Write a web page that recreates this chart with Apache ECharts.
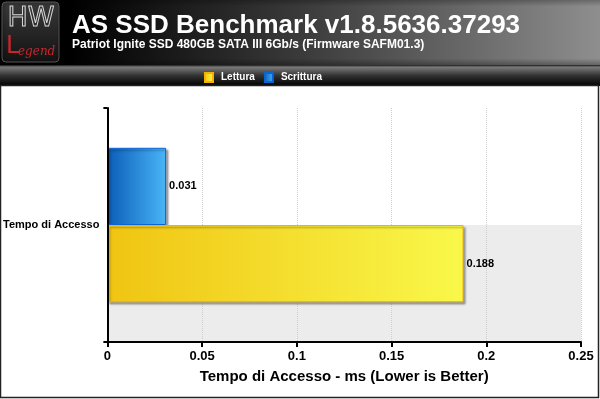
<!DOCTYPE html>
<html><head><meta charset="utf-8">
<script src="https://cdn.jsdelivr.net/npm/echarts@6/dist/echarts.min.js"></script>
<style>html,body{margin:0;padding:0;background:#fff}#c{width:600px;height:399px}</style>
</head><body><div id="c"></div>
<script>
var categories = ['Tempo di Accesso'];
var seriesNames = ['Lettura', 'Scrittura'];
var letturaValues = [0.188];
var scritturaValues = [0.031];
var xTicks = [0, 0.05, 0.1, 0.15, 0.2, 0.25];
var titleText = 'AS SSD Benchmark v1.8.5636.37293';
var subtitleText = 'Patriot Ignite SSD 480GB SATA III 6Gb/s (Firmware SAFM01.3)';
var axisTitle = 'Tempo di Accesso - ms (Lower is Better)';

var FONT = '"Liberation Sans", Arial, sans-serif';
var chart = echarts.init(document.getElementById('c'), null, {renderer: 'canvas'});

function hGrad(c0, c1) {
  return new echarts.graphic.LinearGradient(0, 0, 1, 0, [{offset: 0, color: c0}, {offset: 1, color: c1}]);
}
var labelStyle = {show: true, position: 'right', distance: 3, color: '#000', fontWeight: 'bold', fontSize: 11, fontFamily: FONT};

var option = {
  animation: false,
  backgroundColor: '#fff',
  textStyle: {fontFamily: FONT},
  legend: {
    data: seriesNames,
    top: 67,
    left: 199,
    itemWidth: 8,
    itemHeight: 9,
    itemGap: 9,
    icon: 'rect',
    textStyle: {color: '#fff', fontWeight: 'bold', fontSize: 10, fontFamily: FONT, padding: [0, 0, 0, 3]}
  },
  grid: {left: 107, right: 19, top: 108, bottom: 57, containLabel: false},
  xAxis: {
    type: 'value',
    min: 0, max: 0.25, interval: 0.05,
    name: axisTitle,
    nameLocation: 'middle',
    nameGap: 27,
    nameTextStyle: {color: '#000', fontWeight: 'bold', fontSize: 15, fontFamily: FONT},
    axisLine: {show: true, lineStyle: {color: '#000', width: 2}},
    axisTick: {show: true, length: 5, lineStyle: {color: '#000', width: 2}},
    axisLabel: {
      color: '#000', fontWeight: 'bold', fontSize: 13, margin: 8, fontFamily: FONT,
      formatter: function (v) { var i = xTicks.findIndex(function (t) { return Math.abs(t - v) < 1e-9; }); return i >= 0 ? String(xTicks[i]) : ''; }
    },
    splitLine: {show: true, lineStyle: {color: '#cfcfcf', type: 'dotted', width: 1}}
  },
  yAxis: [{
    type: 'category',
    data: categories,
    axisLine: {show: true, lineStyle: {color: '#000', width: 2}},
    axisTick: {show: true, length: 4, lineStyle: {color: '#000', width: 2}},
    axisLabel: {color: '#000', fontWeight: 'bold', fontSize: 11, margin: 8, fontFamily: FONT},
    splitLine: {show: false},
    z: 3
  }, {
    type: 'category',
    data: ['b0', 'b1'],
    position: 'left',
    axisLine: {show: false}, axisTick: {show: false}, axisLabel: {show: false},
    splitArea: {show: true, areaStyle: {color: ['#ececec', '#ffffff']}},
    z: 0
  }],
  series: [{
    name: seriesNames[1],
    type: 'bar',
    data: scritturaValues,
    barGap: '0%',
    barCategoryGap: '34%',
    itemStyle: {
      color: hGrad('#0b5db8', '#49b5f7'),
      borderColor: '#0a64d8', borderWidth: 1,
      shadowColor: 'rgba(0,0,0,0.35)', shadowBlur: 2, shadowOffsetX: 2, shadowOffsetY: 2
    },
    label: labelStyle
  }, {
    name: seriesNames[0],
    type: 'bar',
    data: letturaValues,
    barGap: '0%',
    barCategoryGap: '34%',
    itemStyle: {
      color: hGrad('#f0c412', '#f9f84a'),
      borderColor: '#f5b000', borderWidth: 1,
      shadowColor: 'rgba(0,0,0,0.35)', shadowBlur: 2, shadowOffsetX: 2, shadowOffsetY: 2
    },
    label: labelStyle
  }],
  graphic: [
    {type: 'rect', z: -10, silent: true, shape: {x: 0, y: 0, width: 600, height: 65},
     style: {fill: new echarts.graphic.LinearGradient(0, 0, 1, 0, [
       {offset: 0, color: '#000'}, {offset: 0.12, color: '#000'}, {offset: 0.5, color: '#3a3a3a'}, {offset: 1, color: '#8e8e8e'}])}},
    {type: 'rect', z: -9, silent: true, shape: {x: 0, y: 0, width: 600, height: 65},
     style: {fill: new echarts.graphic.LinearGradient(0, 0, 0, 1, [
       {offset: 0, color: 'rgba(0,0,0,0.25)'}, {offset: 0.1, color: 'rgba(0,0,0,0)'}, {offset: 0.9, color: 'rgba(0,0,0,0)'}, {offset: 1, color: 'rgba(0,0,0,0.3)'}])}},
    {type: 'rect', z: -10, silent: true, shape: {x: 0, y: 65, width: 600, height: 21},
     style: {fill: new echarts.graphic.LinearGradient(0, 0, 0, 1, [
       {offset: 0, color: '#1a1a1a'}, {offset: 0.1, color: '#7a7a7a'}, {offset: 0.5, color: '#333'}, {offset: 1, color: '#000'}])}},
    {type: 'rect', z: 10, silent: true, shape: {x: 0.5, y: 85.5, width: 598, height: 312},
     style: {fill: null, stroke: '#222', lineWidth: 1.5}},
    {type: 'rect', z: -5, silent: true, shape: {x: 2, y: 2, width: 57, height: 60, r: 4},
     style: {fill: new echarts.graphic.LinearGradient(0, 0, 0, 1, [
       {offset: 0, color: '#3a3a3a'}, {offset: 1, color: '#121212'}]), stroke: '#555', lineWidth: 1,
       shadowColor: 'rgba(0,0,0,0.6)', shadowBlur: 3, shadowOffsetX: 1, shadowOffsetY: 1}},
    {type: 'text', z: -4, silent: true, style: {text: 'HW', x: 31, y: 19, fill: 'none', stroke: '#d8d8d8', lineWidth: 1,
       font: '27px "DejaVu Sans", sans-serif', align: 'center', verticalAlign: 'middle'}},
    {type: 'text', z: -4, silent: true, style: {text: 'L', x: 6, y: 47, fill: '#c8262d',
       font: '24px "DejaVu Sans", sans-serif', align: 'left', verticalAlign: 'middle'}},
    {type: 'text', z: -4, silent: true, style: {text: 'egend', x: 18, y: 52, fill: '#c8262d',
       font: 'italic 12px "DejaVu Serif", serif', align: 'left', verticalAlign: 'middle'}},
    {type: 'text', z: -4, silent: true, style: {text: titleText, x: 72, y: 26, fill: '#fff',
       font: 'bold 26px ' + FONT, align: 'left', verticalAlign: 'middle'}},
    {type: 'text', z: -4, silent: true, style: {text: subtitleText, x: 72, y: 44.5, fill: '#fff',
       font: 'bold 12px ' + FONT, align: 'left', verticalAlign: 'middle'}}
  ]
};
chart.setOption(option);
</script></body></html>
